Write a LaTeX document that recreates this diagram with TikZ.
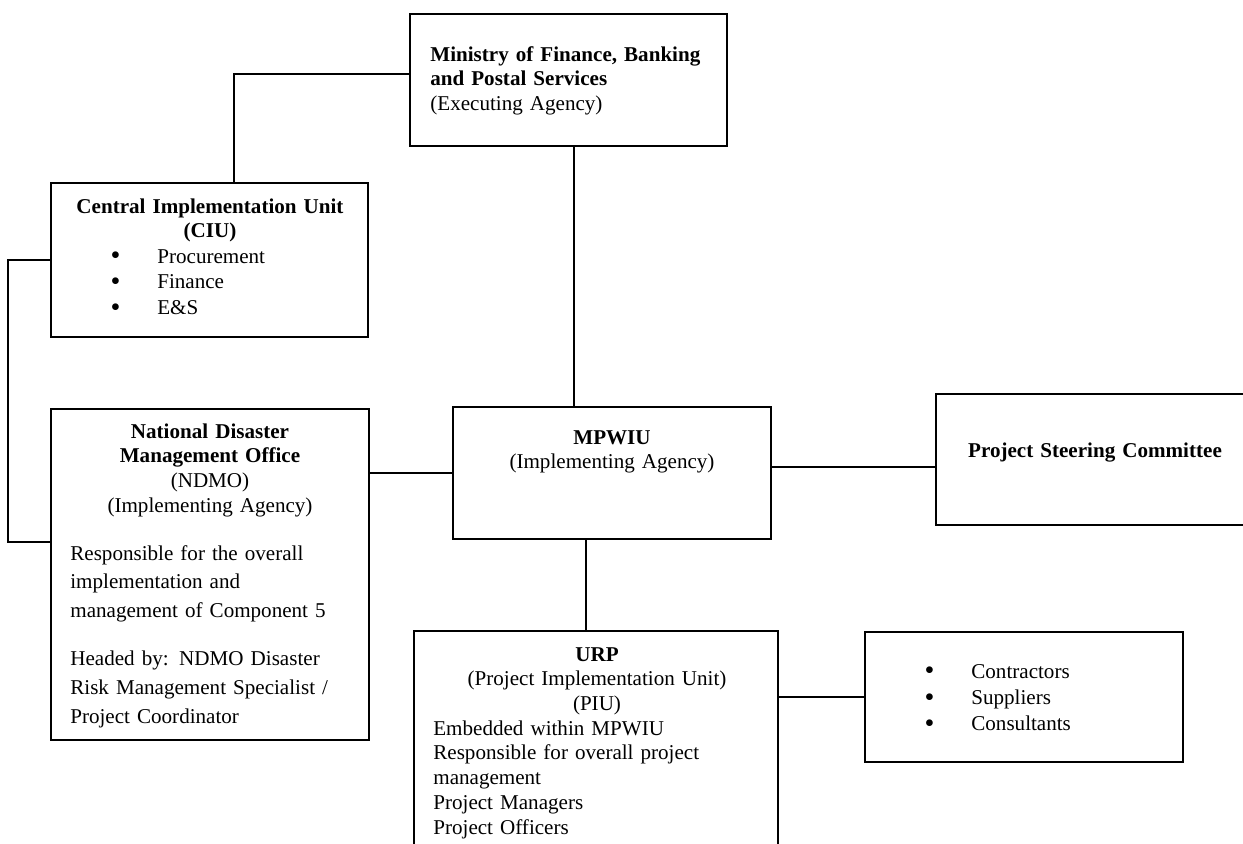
\documentclass[tikz,border=0pt]{standalone}
\usepackage{fontspec}
\setmainfont{Liberation Serif}
\usetikzlibrary{fit}

\newcommand{\blt}{\leavevmode\llap{\raisebox{-1pt}{\fontsize{16}{16}\selectfont\textbullet}\hspace{21pt}}}

\begin{document}
\begin{tikzpicture}[
  x=0.02cm, y=-0.02cm,
  box/.style={draw=black,line width=1.1pt,inner sep=0pt},
  link/.style={draw=black,line width=1pt},
  txt/.style={font=\fontsize{12}{14.2}\selectfont,inner sep=0pt,align=left},
  head/.style={txt,align=center}
]
\useasboundingbox (0,0) rectangle (1243,843);
\clip (0,0) rectangle (1243,843);

% ---- boxes ----
\node[box,fit={(410,14) (727,146)}] (mof) {};
\node[box,fit={(51,183) (368,337)}] (ciu) {};
\node[box,fit={(51,409) (369,740)}] (ndmo) {};
\node[box,fit={(453,407) (771,539)}] (mpwiu) {};
\node[box,fit={(936,394) (1254,525)}] (psc) {};
\node[box,fit={(414,631) (778,880)}] (urp) {};
\node[box,fit={(865,632) (1183,762)}] (cons) {};

% ---- texts ----
\node[txt,text width=6cm,anchor=base west] (moftxt) at (430,61)
  {\textbf{Ministry of Finance, Banking}\\ \textbf{and Postal Services}\\ (Executing Agency)};

\node[head,text width=6cm,anchor=base] (ciuhead) at (210,213)
  {\textbf{Central Implementation Unit}\\ \textbf{(CIU)}};
\node[txt,text width=4cm,anchor=base west,font=\fontsize{12}{14.6}\selectfont] (ciulist) at (157,263)
  {\blt Procurement\\ \blt Finance\\ \blt E\&S};

\node[head,text width=6cm,anchor=base] (ndmohead) at (210,438)
  {\textbf{National Disaster}\\ \textbf{Management Office}\\ (NDMO)\\ (Implementing Agency)};
\node[txt,text width=5.8cm,anchor=base west,font=\fontsize{12}{16.4}\selectfont] (ndmobody) at (70,560)
  {Responsible for the overall\\ implementation and\\ management of Component 5\\[10.8pt]
   Headed by: NDMO Disaster\\ Risk Management Specialist /\\ Project Coordinator};

\node[head,text width=6cm,anchor=base] (mpwiutxt) at (612,444)
  {\textbf{MPWIU}\\ (Implementing Agency)};

\node[head,text width=6cm,anchor=base] (psctxt) at (1095,457)
  {\textbf{Project Steering Committee}};

\node[head,text width=7cm,anchor=base] (urphead) at (597,661)
  {\textbf{URP}\\ (Project Implementation Unit)\\ (PIU)};
\node[txt,text width=7cm,anchor=base west] (urpbody) at (433,735)
  {Embedded within MPWIU\\ Responsible for overall project\\ management\\ Project Managers\\ Project Officers};

\node[txt,text width=4cm,anchor=base west,font=\fontsize{12}{15}\selectfont] (constxt) at (971,678)
  {\blt Contractors\\ \blt Suppliers\\ \blt Consultants};

% ---- connectors ----
\draw[link] ([yshift=0.12cm]mof.west) -| ([xshift=0.49cm]ciu.north);
\draw[link] (ciu.west) -- ++(-42,0) |- ([yshift=0.65cm]ndmo.west);
\draw[link] ([xshift=0.11cm]mof.south) -- ([xshift=0.11cm]mof.south |- mpwiu.north);
\draw[link] (mpwiu.west) -- (mpwiu.west -| ndmo.east);
\draw[link] ([yshift=0.12cm]mpwiu.east) -- ([yshift=0.12cm]mpwiu.east -| psc.west);
\draw[link] ([xshift=-0.52cm]mpwiu.south) -- ([xshift=-0.52cm]mpwiu.south |- urp.north);
\draw[link] (cons.west) -- (cons.west -| urp.east);

\end{tikzpicture}
\end{document}
